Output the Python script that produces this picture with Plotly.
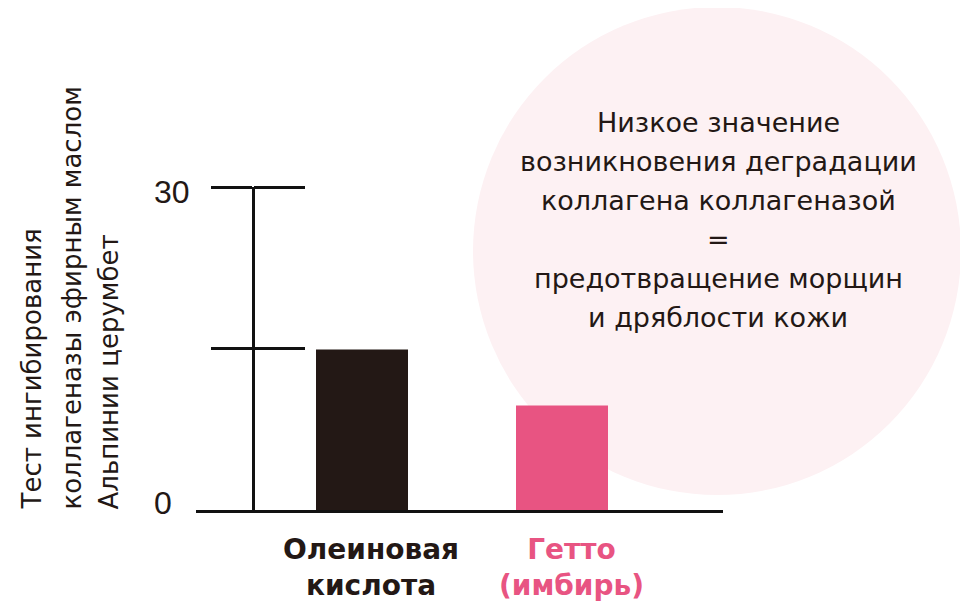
import plotly.graph_objects as go

# ---- data ----
categories = ["Олеиновая кислота", "Гетто (имбирь)"]
values = [14.9, 9.7]
bar_colors = ["#231815", "#e85482"]
label_colors = ["#231815", "#e85482"]
tick_vals = [0, 15, 30]
tick_text = ["0", "", "30"]
y_title_lines = ["Тест ингибирования", "коллагеназы эфирным маслом", "Альпинии церумбет"]
note_lines = ["Низкое значение", "возникновения деградации", "коллагена коллагеназой",
              "=", "предотвращение морщин", "и дряблости кожи"]

# ---- layout geometry (window pixels; page body has an 8px margin) ----
OFF = 8
WIN_W, WIN_H = 968, 601
W, H = WIN_W - OFF, WIN_H - OFF
L, R, T, B = 196 - OFF, WIN_W - 723, 187 - OFF, WIN_H - 510
PW, PH = W - L - R, H - T - B

def px(xp):
    return (xp - OFF - L) / PW

def py(yp):
    return (OFF + H - B - yp) / PH

xpos = list(range(len(categories)))

fig = go.Figure()
fig.add_trace(go.Bar(
    x=xpos, y=values, width=0.46,
    marker=dict(color=bar_colors, line=dict(width=0)),
    hoverinfo="skip", showlegend=False,
))
fig.add_trace(go.Scatter(x=xpos, y=values, yaxis="y2", mode="markers",
                         marker=dict(opacity=0), hoverinfo="skip", showlegend=False))

pos_tick = [v for v in tick_vals if v > 0]
fig.update_layout(
    width=W, height=H,
    margin=dict(l=L, r=R, t=T, b=B, pad=0),
    paper_bgcolor="white", plot_bgcolor="rgba(0,0,0,0)",
    xaxis=dict(range=[-0.83, 1.805], showgrid=False, zeroline=False,
               showticklabels=False, ticks="", showline=True,
               linewidth=3, linecolor="#111111", fixedrange=True),
    yaxis=dict(range=[0, 30], anchor="free", position=px(253),
               showgrid=False, zeroline=False, showticklabels=False,
               showline=True, linewidth=3, linecolor="#111111",
               ticks="outside", ticklen=41, tickwidth=3, tickcolor="#111111",
               tickvals=pos_tick),
    yaxis2=dict(range=[0, 30], overlaying="y", anchor="free", position=px(253),
                side="right", showgrid=False, zeroline=False, showticklabels=False,
                showline=False, ticks="outside", ticklen=51, tickwidth=3,
                tickcolor="#111111", tickvals=pos_tick),
)

# background circle
fig.add_shape(type="circle", xref="paper", yref="paper",
              x0=px(473), x1=px(961), y0=py(495), y1=py(7),
              fillcolor="#fdf1f3", line=dict(width=0), layer="below")

annotations = []
# tick labels (left aligned)
shifts = {0: 7, 30: -5}
for v, t in zip(tick_vals, tick_text):
    if t:
        annotations.append(dict(x=px(152), xref="paper", y=v, yref="y",
                                text=t, showarrow=False, xanchor="left", yanchor="middle",
                                yshift=shifts.get(v, 0),
                                font=dict(family="Liberation Sans", size=32, color="#231815")))

# y title, one rotated annotation per line
for ln, xc in zip(y_title_lines, [31, 71, 108]):
    annotations.append(dict(x=px(xc), xref="paper", y=py(512), yref="paper",
                            text=ln, textangle=-90, showarrow=False,
                            xanchor="center", yanchor="bottom",
                            font=dict(family="DejaVu Sans", size=26, color="#231815")))

# category labels
for i, (cat, col) in enumerate(zip(categories, label_colors)):
    annotations.append(dict(x=xpos[i], xref="x", y=py(567), yref="paper",
                            text="<b>" + cat.replace(" ", "<br>") + "</b>", showarrow=False,
                            xanchor="center", yanchor="middle", xshift=9, align="center",
                            font=dict(family="DejaVu Sans", size=28, color=col)))

# note text in circle
for k, ln in enumerate(note_lines):
    annotations.append(dict(x=px(718), xref="paper", y=py(123 + 38.8 * k), yref="paper",
                            text=ln, showarrow=False, xanchor="center", yanchor="middle",
                            font=dict(family="DejaVu Sans", size=27, color="#231815")))

fig.update_layout(annotations=annotations)
fig.write_html("out.html")
